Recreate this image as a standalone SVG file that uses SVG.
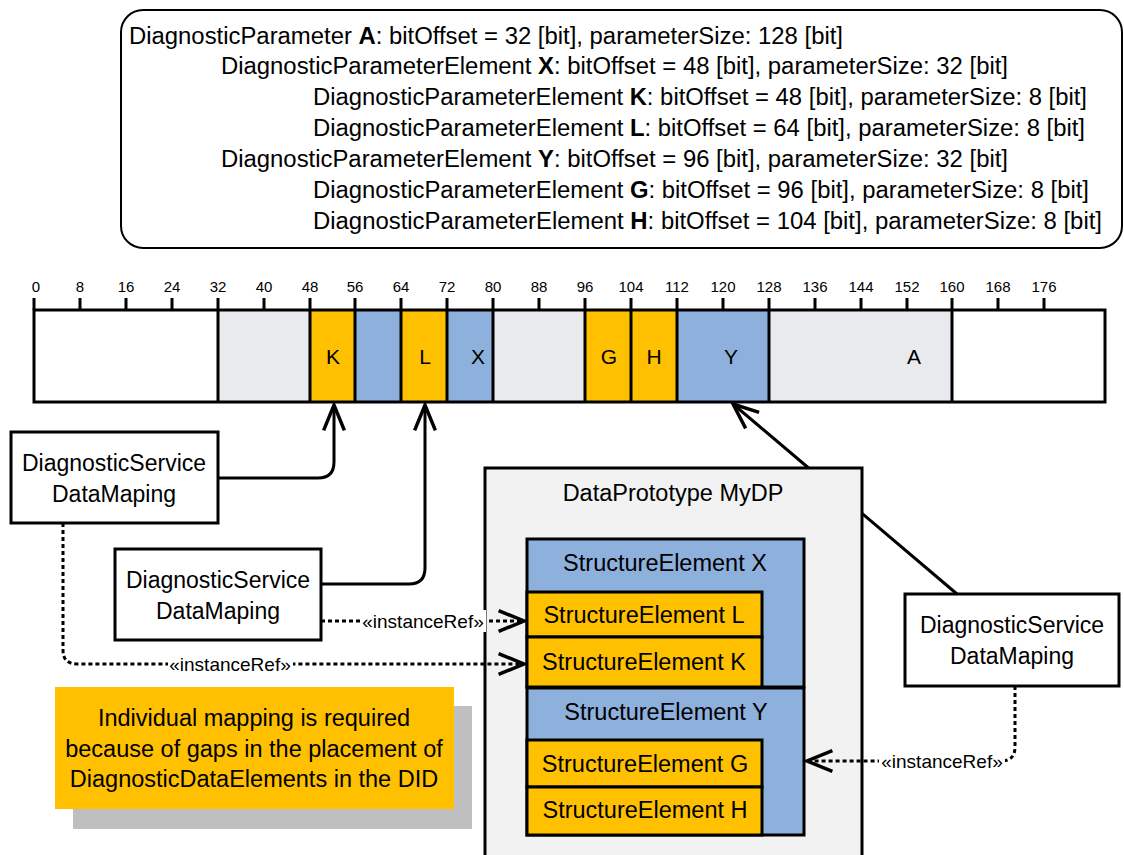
<svg xmlns="http://www.w3.org/2000/svg" width="1124" height="855" viewBox="0 0 1124 855">
<style>
text{font-family:"Liberation Sans",Arial,sans-serif;fill:#000}
.tk{font-size:15px;text-anchor:middle}
.bl{font-size:21px;text-anchor:middle}
.nd{font-size:23px;text-anchor:middle}
.se{font-size:23.5px;text-anchor:middle}
.tp{font-size:23px}
.ir{font-size:19px;text-anchor:middle}
.box{fill:#fff;stroke:#000;stroke-width:3}
.or{fill:#FFC000;stroke:#000;stroke-width:3}
.bu{fill:#8EB0DC;stroke:#000;stroke-width:3}
.gr{fill:#E9EAEE}
.ln{fill:none;stroke:#000;stroke-width:3}
.dt{fill:none;stroke:#000;stroke-width:3;stroke-dasharray:4 3}
.lbg{fill:#fff}
</style>
<defs>
<marker id="arr" markerUnits="userSpaceOnUse" markerWidth="30" markerHeight="26" viewBox="0 0 26 22" refX="23" refY="11" orient="auto" overflow="visible">
<path d="M1,2 L23,11 L1,20" fill="none" stroke="#000" stroke-width="3" stroke-dasharray="none"/>
</marker>
</defs>

<g id="info">
<rect x="121" y="10" width="1001" height="238" rx="22" ry="22" fill="#fff" stroke="#000" stroke-width="2"/>
<text class="tp" x="129" y="44" textLength="714" lengthAdjust="spacingAndGlyphs">DiagnosticParameter <tspan font-weight="bold">A</tspan>: bitOffset = 32 [bit], parameterSize: 128 [bit]</text>
<text class="tp" x="221" y="74" textLength="787" lengthAdjust="spacingAndGlyphs">DiagnosticParameterElement <tspan font-weight="bold">X</tspan>: bitOffset = 48 [bit], parameterSize: 32 [bit]</text>
<text class="tp" x="313" y="105" textLength="774" lengthAdjust="spacingAndGlyphs">DiagnosticParameterElement <tspan font-weight="bold">K</tspan>: bitOffset = 48 [bit], parameterSize: 8 [bit]</text>
<text class="tp" x="313" y="136" textLength="772" lengthAdjust="spacingAndGlyphs">DiagnosticParameterElement <tspan font-weight="bold">L</tspan>: bitOffset = 64 [bit], parameterSize: 8 [bit]</text>
<text class="tp" x="221" y="167" textLength="787" lengthAdjust="spacingAndGlyphs">DiagnosticParameterElement <tspan font-weight="bold">Y</tspan>: bitOffset = 96 [bit], parameterSize: 32 [bit]</text>
<text class="tp" x="313" y="198" textLength="776" lengthAdjust="spacingAndGlyphs">DiagnosticParameterElement <tspan font-weight="bold">G</tspan>: bitOffset = 96 [bit], parameterSize: 8 [bit]</text>
<text class="tp" x="313" y="229" textLength="789" lengthAdjust="spacingAndGlyphs">DiagnosticParameterElement <tspan font-weight="bold">H</tspan>: bitOffset = 104 [bit], parameterSize: 8 [bit]</text>
</g>

<g id="ruler">
<g stroke="#000" stroke-width="3">
<line x1="34" y1="298" x2="34" y2="310"/><line x1="80" y1="298" x2="80" y2="310"/><line x1="126" y1="298" x2="126" y2="310"/><line x1="172" y1="298" x2="172" y2="310"/><line x1="218" y1="298" x2="218" y2="310"/><line x1="264" y1="298" x2="264" y2="310"/><line x1="310" y1="298" x2="310" y2="310"/><line x1="355" y1="298" x2="355" y2="310"/><line x1="401" y1="298" x2="401" y2="310"/><line x1="447" y1="298" x2="447" y2="310"/><line x1="493" y1="298" x2="493" y2="310"/><line x1="539" y1="298" x2="539" y2="310"/><line x1="585" y1="298" x2="585" y2="310"/><line x1="631" y1="298" x2="631" y2="310"/><line x1="677" y1="298" x2="677" y2="310"/><line x1="723" y1="298" x2="723" y2="310"/><line x1="769" y1="298" x2="769" y2="310"/><line x1="815" y1="298" x2="815" y2="310"/><line x1="861" y1="298" x2="861" y2="310"/><line x1="907" y1="298" x2="907" y2="310"/><line x1="952" y1="298" x2="952" y2="310"/><line x1="998" y1="298" x2="998" y2="310"/><line x1="1044" y1="298" x2="1044" y2="310"/>
</g>
<text class="tk" x="36" y="292">0</text><text class="tk" x="80" y="292">8</text><text class="tk" x="126" y="292">16</text><text class="tk" x="172" y="292">24</text><text class="tk" x="218" y="292">32</text><text class="tk" x="264" y="292">40</text><text class="tk" x="310" y="292">48</text><text class="tk" x="355" y="292">56</text><text class="tk" x="401" y="292">64</text><text class="tk" x="447" y="292">72</text><text class="tk" x="493" y="292">80</text><text class="tk" x="539" y="292">88</text><text class="tk" x="585" y="292">96</text><text class="tk" x="631" y="292">104</text><text class="tk" x="677" y="292">112</text><text class="tk" x="723" y="292">120</text><text class="tk" x="769" y="292">128</text><text class="tk" x="815" y="292">136</text><text class="tk" x="861" y="292">144</text><text class="tk" x="907" y="292">152</text><text class="tk" x="952" y="292">160</text><text class="tk" x="998" y="292">168</text><text class="tk" x="1044" y="292">176</text>
</g>

<g id="bar">
<rect x="34" y="310" width="1071" height="92" fill="#fff"/>
<rect class="gr" x="218" y="310" width="92" height="92"/>
<rect class="gr" x="493" y="310" width="92" height="92"/>
<rect class="gr" x="769" y="310" width="183" height="92"/>
<rect x="310" y="310" width="45" height="92" fill="#FFC000"/>
<rect x="355" y="310" width="46" height="92" fill="#8EB0DC"/>
<rect x="401" y="310" width="46" height="92" fill="#FFC000"/>
<rect x="447" y="310" width="46" height="92" fill="#8EB0DC"/>
<rect x="585" y="310" width="46" height="92" fill="#FFC000"/>
<rect x="631" y="310" width="46" height="92" fill="#FFC000"/>
<rect x="677" y="310" width="92" height="92" fill="#8EB0DC"/>
<rect x="34" y="310" width="1071" height="92" fill="none" stroke="#000" stroke-width="3"/>
<g stroke="#000" stroke-width="3">
<line x1="218" y1="310" x2="218" y2="402"/><line x1="310" y1="310" x2="310" y2="402"/><line x1="355" y1="310" x2="355" y2="402"/><line x1="401" y1="310" x2="401" y2="402"/><line x1="447" y1="310" x2="447" y2="402"/><line x1="493" y1="310" x2="493" y2="402"/><line x1="585" y1="310" x2="585" y2="402"/><line x1="631" y1="310" x2="631" y2="402"/><line x1="677" y1="310" x2="677" y2="402"/><line x1="769" y1="310" x2="769" y2="402"/><line x1="952" y1="310" x2="952" y2="402"/>
</g>
<text class="bl" x="333" y="364">K</text>
<text class="bl" x="425" y="364">L</text>
<text class="bl" x="478" y="364">X</text>
<text class="bl" x="609" y="364">G</text>
<text class="bl" x="654" y="364">H</text>
<text class="bl" x="731" y="364">Y</text>
<text class="bl" x="914" y="364">A</text>
</g>

<g id="dsdm1">
<rect class="box" x="11" y="432" width="207" height="91"/>
<text class="nd" x="114" y="471">DiagnosticService</text>
<text class="nd" x="114" y="502">DataMaping</text>
</g>

<g id="dsdm2">
<rect class="box" x="115" y="549" width="206" height="91"/>
<text class="nd" x="218" y="588">DiagnosticService</text>
<text class="nd" x="218" y="619">DataMaping</text>
</g>

<g id="dsdm3">
<rect class="box" x="905" y="594" width="214" height="92"/>
<text class="nd" x="1012" y="633">DiagnosticService</text>
<text class="nd" x="1012" y="664">DataMaping</text>
</g>

<g id="dataprototype">
<rect x="485" y="468" width="377" height="392" fill="#F2F2F2" stroke="#000" stroke-width="3"/>
<text class="se" x="673" y="501">DataPrototype MyDP</text>
</g>

<g id="structX">
<rect class="bu" x="527" y="539" width="277" height="148"/>
<text class="se" x="665" y="571">StructureElement X</text>
</g>
<g id="structL">
<rect class="or" x="527" y="592" width="235" height="45"/>
<text class="se" x="644" y="623">StructureElement L</text>
</g>
<g id="structK">
<rect class="or" x="527" y="637" width="235" height="50"/>
<text class="se" x="644" y="670">StructureElement K</text>
</g>
<g id="structY">
<rect class="bu" x="527" y="688" width="277" height="147"/>
<text class="se" x="666" y="720">StructureElement Y</text>
</g>
<g id="structG">
<rect class="or" x="527" y="740" width="235" height="47"/>
<text class="se" x="645" y="772">StructureElement G</text>
</g>
<g id="structH">
<rect class="or" x="527" y="787" width="235" height="48"/>
<text class="se" x="645" y="818">StructureElement H</text>
</g>

<g id="note">
<rect x="73" y="706" width="399" height="123" fill="#BFBFBF"/>
<rect x="55" y="687" width="399" height="122" fill="#FFC000"/>
<text class="se" x="254" y="726">Individual mapping is required</text>
<text class="se" x="254" y="757">because of gaps in the placement of</text>
<text class="se" x="254" y="787">DiagnosticDataElements in the DID</text>
</g>

<g id="connectors">
<path class="ln" d="M218,478 H318 Q334,478 334,462 V405" marker-end="url(#arr)"/>
<path class="ln" d="M321,584 H409 Q425,584 425,568 V405" marker-end="url(#arr)"/>
<path class="ln" d="M957,594 L862,513.4 M808.6,468 L733,404" marker-end="url(#arr)"/>
<path class="dt" d="M321,621 H524" marker-end="url(#arr)"/>
<path class="dt" d="M63,523 V650 Q63,664 77,664 H524" marker-end="url(#arr)"/>
<path class="dt" d="M1015,686 V747 Q1015,761 1001,761 H807" marker-end="url(#arr)"/>
<rect class="lbg" x="361" y="610" width="125" height="22"/>
<text class="ir" x="423" y="627.5">«instanceRef»</text>
<rect class="lbg" x="168" y="653" width="125" height="22"/>
<text class="ir" x="230" y="670.5">«instanceRef»</text>
<rect class="lbg" x="879" y="750" width="126" height="22"/>
<text class="ir" x="942" y="767.5">«instanceRef»</text>
</g>
</svg>
